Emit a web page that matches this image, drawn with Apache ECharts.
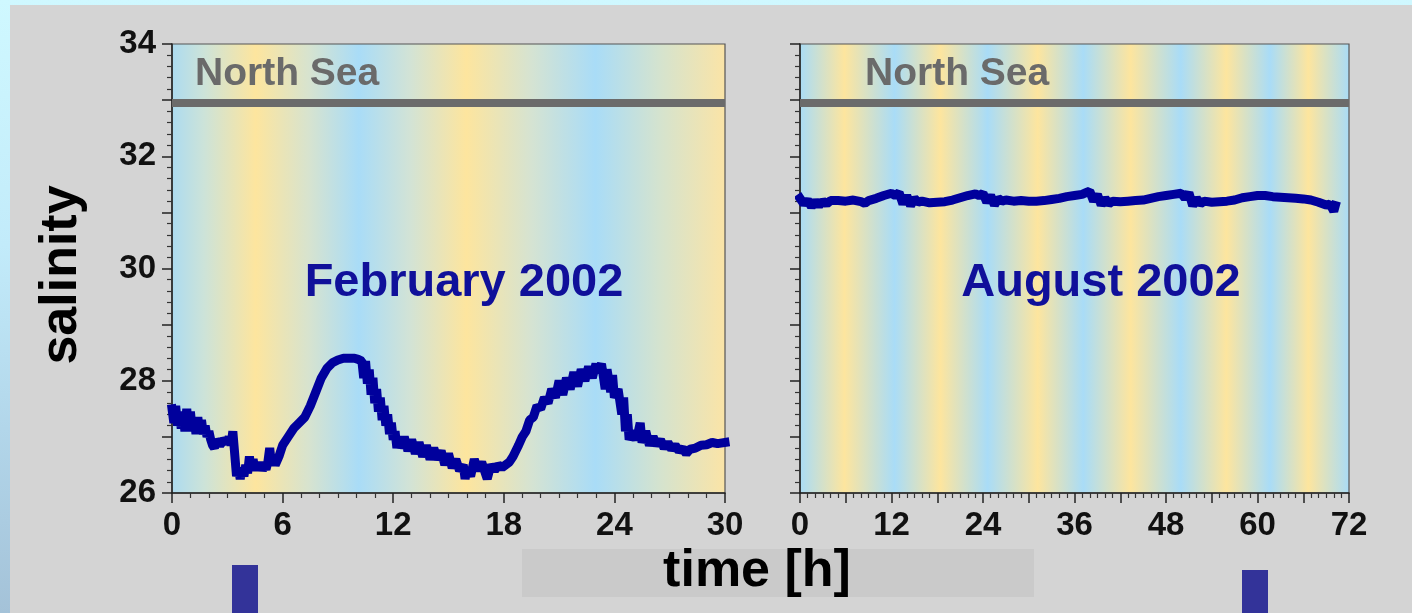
<!DOCTYPE html>
<html>
<head>
<meta charset="utf-8">
<script src="https://cdn.jsdelivr.net/npm/echarts@6/dist/echarts.min.js"></script>
<style>
  html, body { margin: 0; padding: 0; width: 1412px; height: 613px; overflow: hidden; }
  body { background: linear-gradient(180deg, #cff8ff 0%, #c2ebfa 40%, #b2d6ea 70%, #a4c2d8 100%); position: relative; }
  #panel { position: absolute; left: 10px; top: 5px; right: 0; bottom: 0; background: #d4d4d4; }
  #chart { position: absolute; left: 0; top: 0; width: 1412px; height: 613px; }
</style>
</head>
<body>
<div id="panel"></div>
<div id="chart"></div>
<script>
// ---- data ----
const febTime = [0,0.1,0.2,0.3,0.4,0.5,0.6,0.7,0.8,0.9,1.0,1.1,1.2,1.3,1.4,1.5,1.6,1.7,1.8,1.9,2.0,2.1,2.2,2.3,2.4,2.6,2.8,3.0,3.1,3.2,3.3,3.4,3.5,3.6,3.7,3.8,3.9,4.0,4.1,4.2,4.3,4.4,4.5,4.6,4.7,4.8,4.9,5.0,5.1,5.2,5.3,5.4,5.5,5.6,5.8,6.0,6.3,6.6,6.9,7.2,7.5,7.8,8.1,8.4,8.7,9.0,9.3,9.6,9.9,10.1,10.3,10.4,10.5,10.6,10.7,10.8,10.9,11.0,11.1,11.2,11.3,11.4,11.5,11.6,11.7,11.8,11.9,12.0,12.1,12.2,12.3,12.4,12.6,12.8,13.0,13.2,13.4,13.6,13.8,14.0,14.2,14.4,14.6,14.8,15.0,15.2,15.4,15.6,15.8,15.9,16.0,16.2,16.4,16.6,16.8,17.0,17.1,17.3,17.5,17.7,17.9,18.1,18.3,18.5,18.8,19.0,19.2,19.4,19.6,19.8,20.0,20.2,20.4,20.6,20.8,21.0,21.2,21.4,21.6,21.8,22.0,22.2,22.4,22.6,22.8,23.0,23.1,23.3,23.5,23.6,23.8,23.9,24.0,24.2,24.4,24.5,24.6,24.7,24.8,25.0,25.2,25.4,25.5,25.7,25.9,26.1,26.3,26.5,26.7,26.9,27.1,27.3,27.5,27.7,27.9,28.1,28.4,28.7,29.0,29.3,29.6,30.0];
const febSal  = [27.5,27.25,27.55,27.2,27.45,27.15,27.4,27.1,27.5,27.1,27.45,27.1,27.35,27.05,27.35,27.1,27.3,27.05,27.2,27.0,27.1,26.95,26.85,26.8,26.95,26.85,26.95,26.9,27.0,26.85,27.1,26.7,26.3,26.45,26.25,26.45,26.3,26.5,26.35,26.65,26.4,26.6,26.4,26.55,26.4,26.55,26.4,26.5,26.42,26.55,26.8,26.5,26.6,26.5,26.65,26.85,27.0,27.15,27.25,27.35,27.55,27.8,28.05,28.22,28.32,28.37,28.4,28.4,28.4,28.38,28.35,28.05,28.35,27.95,28.2,27.75,28.05,27.6,27.85,27.45,27.7,27.3,27.55,27.2,27.4,27.05,27.25,26.95,27.1,26.8,27.0,26.8,27.0,26.75,26.95,26.7,26.9,26.65,26.85,26.6,26.8,26.6,26.75,26.5,26.7,26.45,26.6,26.4,26.5,26.25,26.45,26.3,26.6,26.4,26.55,26.35,26.25,26.5,26.4,26.5,26.45,26.5,26.55,26.65,26.85,27.0,27.1,27.3,27.35,27.55,27.5,27.7,27.6,27.85,27.7,28.0,27.75,28.05,27.85,28.15,27.9,28.2,28.0,28.25,28.05,28.3,28.15,28.3,27.85,28.2,27.8,28.1,27.7,27.85,27.4,27.7,27.1,27.4,26.95,27.1,26.95,27.25,26.9,27.1,26.85,27.0,26.85,26.95,26.8,26.9,26.78,26.85,26.75,26.8,26.7,26.78,26.8,26.85,26.86,26.9,26.88,26.9];

const augTime = [0,0.5,1,1.5,2,2.5,3,3.5,4,5,6,7,8,8.5,9,10,11,12,12.5,13,13.5,14,14.5,15,15.5,16,17,18,19,20,21,22,23,23.5,24,24.5,25,25.5,26,26.5,27,28,29,30,31,32,33,34,35,36,37,37.5,38,38.5,39,39.5,40,40.5,41,42,43,44,45,46,47,48,49,50,50.5,51,51.5,52,52.5,53,54,55,56,57,58,59,60,61,62,63,64,65,66,67,68,69,69.5,70,70.2];
const augSal  = [31.25,31.15,31.22,31.1,31.2,31.12,31.2,31.15,31.21,31.21,31.2,31.22,31.19,31.16,31.21,31.25,31.3,31.34,31.3,31.35,31.15,31.3,31.12,31.25,31.18,31.2,31.17,31.18,31.19,31.22,31.26,31.3,31.33,31.3,31.34,31.18,31.3,31.13,31.25,31.2,31.22,31.2,31.21,31.2,31.2,31.21,31.23,31.25,31.28,31.3,31.32,31.35,31.38,31.2,31.32,31.13,31.25,31.15,31.2,31.19,31.2,31.21,31.22,31.25,31.28,31.3,31.32,31.34,31.25,31.35,31.12,31.25,31.15,31.2,31.18,31.19,31.2,31.22,31.26,31.28,31.3,31.3,31.28,31.27,31.26,31.25,31.24,31.22,31.18,31.13,31.15,31.02,31.12];

const northSeaLevel = 32.95;
const yTickMin = 26, yTickMax = 34;
const febMaxTime = 30, augMaxTime = 72;
const febLabel = 'February 2002', augLabel = 'August 2002';
const seaLabel = 'North Sea';

// ---- styling ----
const FONT = '"Liberation Sans", Arial, Helvetica, sans-serif';
const Y = '#fde59e', B = '#a9dcf7';
function grad(stops) {
  return { type: 'linear', x: 0, y: 0, x2: 1, y2: 0, global: false,
    colorStops: stops.map(s => ({ offset: s[0], color: s[1] })) };
}
const febBg = grad([[0,'#acdbf0'],[0.06,'#cde3d8'],[0.152,Y],[0.25,'#d6e3d0'],[0.338,B],[0.43,'#d2e3d6'],[0.532,Y],[0.65,'#d5e3d2'],[0.765,B],[0.88,'#d4e3cf'],[1,'#fbe4a6']]);
const augBg = grad([[0,B],[0.082,Y],[0.173,B],[0.256,Y],[0.342,B],[0.433,Y],[0.516,B],[0.602,Y],[0.693,B],[0.776,Y],[0.855,B],[0.925,Y],[1,B]]);

const labelStyle = { color: '#111', fontFamily: FONT, fontWeight: 'bold', fontSize: 33 };

function xAxisCfg(idx, max, every) {
  return {
    type: 'value', gridIndex: idx, min: 0, max: max, interval: 6,
    axisLine: { show: true, onZero: false, lineStyle: { color: '#222', width: 1.5 } },
    axisTick: { show: true, length: 10, lineStyle: { color: '#222', width: 1.5 } },
    minorTick: { show: true, splitNumber: 6, length: 5, lineStyle: { color: '#333', width: 1.2 } },
    splitLine: { show: false }, minorSplitLine: { show: false },
    axisLabel: Object.assign({ margin: 16, formatter: v => (v % every === 0 ? String(v) : '') }, labelStyle)
  };
}
function yAxisCfg(idx, showLabels) {
  return {
    type: 'value', gridIndex: idx, min: yTickMin, max: yTickMax, interval: 1,
    axisLine: { show: true, onZero: false, lineStyle: { color: '#222', width: 1.5 } },
    axisTick: { show: true, length: 10, lineStyle: { color: '#222', width: 1.5 } },
    minorTick: { show: true, splitNumber: 5, length: 5, lineStyle: { color: '#333', width: 1.2 } },
    splitLine: { show: false }, minorSplitLine: { show: false },
    axisLabel: Object.assign({ show: showLabels, margin: 16, formatter: v => (v % 2 === 0 ? String(v) : '') }, labelStyle)
  };
}
function seaLine() {
  return { symbol: 'none', silent: true, label: { show: false },
    lineStyle: { color: '#6b6b6b', width: 8, type: 'solid' },
    data: [{ yAxis: northSeaLevel }] };
}

const chart = echarts.init(document.getElementById('chart'), null, { renderer: 'canvas' });
chart.setOption({
  animation: false,
  backgroundColor: 'transparent',
  grid: [
    { left: 172, top: 44, width: 553, height: 449, show: true, backgroundColor: febBg, borderColor: '#555', borderWidth: 1.2 },
    { left: 800, top: 44, width: 549, height: 449, show: true, backgroundColor: augBg, borderColor: '#555', borderWidth: 1.2 }
  ],
  xAxis: [xAxisCfg(0, febMaxTime, 6), xAxisCfg(1, augMaxTime, 12)],
  yAxis: [yAxisCfg(0, true), yAxisCfg(1, false)],
  series: [
    { type: 'line', xAxisIndex: 0, yAxisIndex: 0, showSymbol: false, symbol: 'none', sampling: null,
      data: febTime.map((t, i) => [t, febSal[i]]),
      lineStyle: { color: '#00009c', width: 9, join: 'bevel', cap: 'square' }, markLine: seaLine(), z: 3 },
    { type: 'line', xAxisIndex: 1, yAxisIndex: 1, showSymbol: false, symbol: 'none', sampling: null,
      data: augTime.map((t, i) => [t, augSal[i]]),
      lineStyle: { color: '#00009c', width: 9, join: 'bevel', cap: 'square' }, markLine: seaLine(), z: 3 }
  ],
  graphic: [
    { type: 'rect', shape: { x: 522, y: 549, width: 512, height: 48 }, style: { fill: '#cacaca' }, z: 1 },
    { type: 'rect', shape: { x: 232, y: 565, width: 26, height: 48 }, style: { fill: '#333399' }, z: 1 },
    { type: 'rect', shape: { x: 1242, y: 570, width: 26, height: 43 }, style: { fill: '#333399' }, z: 1 },
    { type: 'text', x: 757, y: 572, z: 5, style: { text: 'time [h]', fill: '#000', font: 'bold 52px ' + FONT, textAlign: 'center', textVerticalAlign: 'middle' } },
    { type: 'text', x: 62, y: 275, rotation: Math.PI / 2, z: 5, style: { text: 'salinity', fill: '#000', font: 'bold 52px ' + FONT, textAlign: 'center', textVerticalAlign: 'middle' } },
    { type: 'text', x: 195, y: 74, z: 5, style: { text: seaLabel, fill: '#6a6a6a', font: 'bold 39px ' + FONT, textAlign: 'left', textVerticalAlign: 'middle' } },
    { type: 'text', x: 865, y: 74, z: 5, style: { text: seaLabel, fill: '#6a6a6a', font: 'bold 39px ' + FONT, textAlign: 'left', textVerticalAlign: 'middle' } },
    { type: 'text', x: 464, y: 283, z: 5, style: { text: febLabel, fill: '#10109a', font: 'bold 47px ' + FONT, textAlign: 'center', textVerticalAlign: 'middle' } },
    { type: 'text', x: 1101, y: 283, z: 5, style: { text: augLabel, fill: '#10109a', font: 'bold 47px ' + FONT, textAlign: 'center', textVerticalAlign: 'middle' } }
  ]
});
</script>
</body>
</html>
